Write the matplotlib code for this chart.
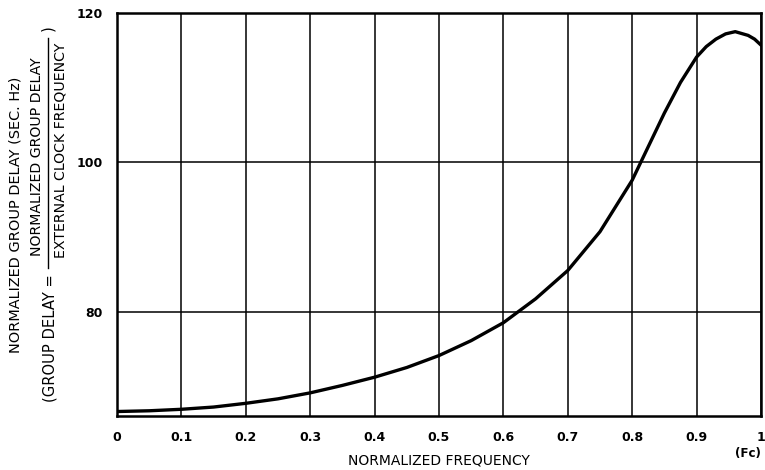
import matplotlib
matplotlib.use("Agg")
import matplotlib.pyplot as plt

plt.rcParams['font.family'] = ['DejaVu Sans']

freq = [0.0, 0.05, 0.1, 0.15, 0.2, 0.25, 0.3, 0.35, 0.4, 0.45, 0.5, 0.55,
        0.6, 0.65, 0.7, 0.75, 0.8, 0.85, 0.875, 0.9, 0.915, 0.93, 0.945,
        0.96, 0.98, 0.99, 1.0]
delay = [66.6, 66.7, 66.9, 67.2, 67.7, 68.3, 69.1, 70.1, 71.2, 72.5, 74.1, 76.1,
         78.5, 81.7, 85.5, 90.7, 97.6, 106.6, 110.7, 114.1, 115.5, 116.5, 117.2,
         117.5, 117.0, 116.5, 115.7]

xticks = [0, 0.1, 0.2, 0.3, 0.4, 0.5, 0.6, 0.7, 0.8, 0.9, 1.0]
xticklabels = ['0', '0.1', '0.2', '0.3', '0.4', '0.5', '0.6', '0.7', '0.8', '0.9', '1']
yticks = [80, 100, 120]
yticklabels = ['80', '100', '120']

W, H = 765, 470
fig = plt.figure(figsize=(W/100, H/100), dpi=100)
ax = fig.add_axes([117/W, 1 - 416/H, (761 - 117)/W, (416 - 13)/H])

ax.plot(freq, delay, color='black', lw=2.4, solid_capstyle='round', zorder=3)
ax.set_xlim(0, 1)
ax.set_ylim(66.0, 120)
ax.set_xticks(xticks)
ax.set_xticklabels(xticklabels, fontsize=9, fontweight='bold')
ax.set_yticks(yticks)
ax.set_yticklabels(yticklabels, fontsize=9, fontweight='bold')
ax.tick_params(length=0)
ax.tick_params(axis='y', pad=10)
ax.tick_params(axis='x', pad=11)
ax.grid(True, color='black', lw=1.1)
for s in ax.spines.values():
    s.set_linewidth(1.8)

renderer = fig.canvas.get_renderer()


def fit_text(xc, yc, s, length, rotation=0, weight='normal', size=None):
    t = fig.text(xc/W, 1 - yc/H, s, rotation=rotation, ha='center', va='center',
                 fontsize=10, fontweight=weight)
    if size is not None:
        t.set_fontsize(size)
        return t
    bb = t.get_window_extent(renderer=renderer)
    cur = bb.height if rotation == 90 else bb.width
    t.set_fontsize(10 * length / cur)
    return t


fit_text(439, 461, 'NORMALIZED FREQUENCY', 182)
fit_text(748, 453, '(Fc)', 26, weight='bold')

fit_text(16, 215, 'NORMALIZED GROUP DELAY (SEC. Hz)', 276, rotation=90)
g = fit_text(50, 338, '(GROUP DELAY =', 127, rotation=90)
fs = g.get_fontsize()
num = fit_text(37, 157, 'NORMALIZED GROUP DELAY', 200, rotation=90)
fit_text(60, 150, 'EXTERNAL CLOCK FREQUENCY', 0, rotation=90, size=num.get_fontsize())
fit_text(48, 28, ')', 0, rotation=90, size=fs)
fig.add_artist(plt.Line2D([48/W, 48/W], [1 - 268/H, 1 - 38/H], color='black', lw=1.0))

fig.savefig('out.png', dpi=100)
